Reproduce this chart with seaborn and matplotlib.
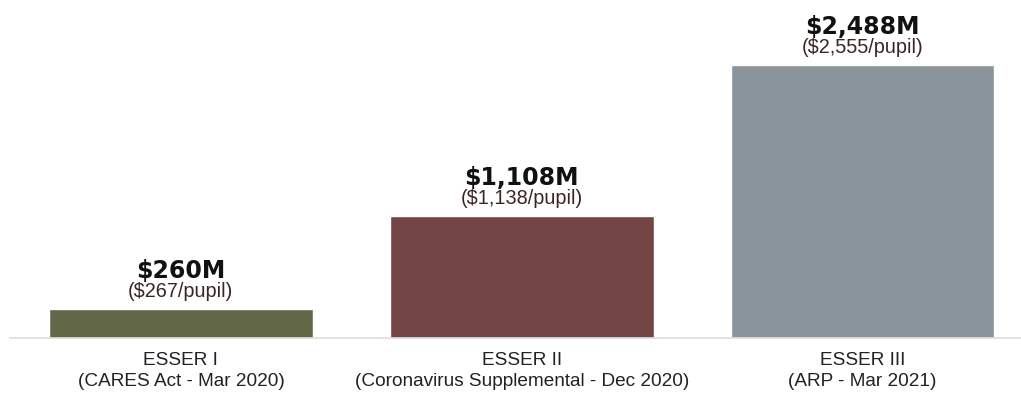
import matplotlib
matplotlib.use("Agg")
import matplotlib.pyplot as plt
import seaborn as sns
import pandas as pd

categories = ["ESSER I\n(CARES Act - Mar 2020)",
              "ESSER II\n(Coronavirus Supplemental - Dec 2020)",
              "ESSER III\n(ARP - Mar 2021)"]
funding_m = [260, 1108, 2488]
per_pupil = [267, 1138, 2555]
colors = ["#626747", "#734544", "#8a949c"]

df = pd.DataFrame({"cat": categories, "val": funding_m})

sns.set_theme(style="white")
plt.rcParams["font.family"] = ["Liberation Sans", "DejaVu Sans"]

W, H = 1021, 393
fig = plt.figure(figsize=(W / 100, H / 100), dpi=100)
left_px, right_px, base_px = 10, 1021, 338
ax = fig.add_axes([left_px / W, (H - base_px) / H, (right_px - left_px) / W, base_px / H])

sns.barplot(data=df, x="cat", y="val", hue="cat", palette=colors,
            width=0.774, legend=False, ax=ax, saturation=1)

px_per_cat = 341.0
ax.set_xlim(-(181 - left_px) / px_per_cat, 2 + (right_px - 862.5) / px_per_cat)
scale = 273.0 / 2488
ax.set_ylim(0, base_px / scale)

for i, (v, p) in enumerate(zip(funding_m, per_pupil)):
    ax.text(i, v + 12 / scale, f"(${p:,}/pupil)", ha="center", va="baseline",
            fontsize=14.3, color="#3d2424", family="Liberation Sans")
    ax.text(i, v + 31 / scale, f"${v:,}M", ha="center", va="baseline",
            fontsize=17, fontweight="bold", color="#111111", family="DejaVu Sans")

ax.set_xlabel("")
ax.set_ylabel("")
ax.set_yticks([])
ax.tick_params(axis="x", length=0, pad=10, labelsize=13.7, labelcolor="#222222")
for lbl in ax.get_xticklabels():
    lbl.set_linespacing(1.3)
for s in ["top", "right", "left"]:
    ax.spines[s].set_visible(False)
ax.spines["bottom"].set_color("#dddddd")
ax.spines["bottom"].set_linewidth(1.2)
ax.patch.set_alpha(0)

fig.savefig("out.png", dpi=100)
